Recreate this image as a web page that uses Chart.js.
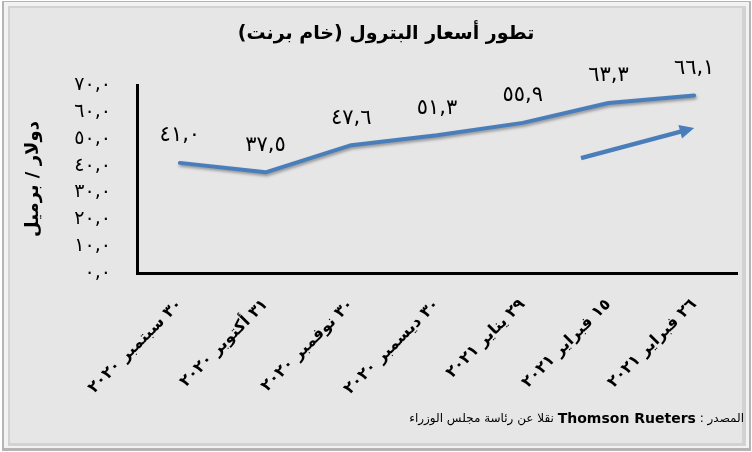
<!DOCTYPE html>
<html lang="ar">
<head>
<meta charset="utf-8">
<title>تطور أسعار البترول</title>
<script src="https://cdn.jsdelivr.net/npm/chart.js@4.4.1/dist/chart.umd.min.js"></script>
<style>
  html, body { margin: 0; padding: 0; background: #fff; }
  #chart { display: block; }
</style>
</head>
<body>
<canvas id="chart" width="752" height="452"></canvas>
<script>
// Brent crude, USD per barrel
const dateLabels = [
    '٣٠ سبتمبر ٢٠٢٠',
    '٣١ أكتوبر ٢٠٢٠',
    '٣٠ نوفمبر ٢٠٢٠',
    '٣٠ ديسمبر ٢٠٢٠',
    '٢٩ يناير ٢٠٢١',
    '١٥ فبراير ٢٠٢١',
    '٢٦ فبراير ٢٠٢١'
];
const prices = [41.0, 37.5, 47.6, 51.3, 55.9, 63.3, 66.1];
const yTickValues = [0, 10, 20, 30, 40, 50, 60, 70];

const chartTitle = 'تطور أسعار البترول (خام برنت)';
const yAxisTitle = 'دولار / برميل';
const sourcePrefix = 'المصدر : ';
const sourceName = 'Thomson Rueters';
const sourceSuffix = ' نقلا عن رئاسة مجلس الوزراء';

const FONT = "'DejaVu Sans', sans-serif";
const lineColor = '#4a7ebb';
const arabicDigits = '٠١٢٣٤٥٦٧٨٩';

// 41.0 -> ٤١,٠
function toArabic(v) {
    return Number(v).toFixed(1).replace('.', ',').replace(/\d/g, d => arabicDigits[d]);
}

// grey bevelled panel behind everything
const framePlugin = {
    id: 'frame',
    beforeDraw(chart) {
        const ctx = chart.ctx;
        const w = chart.width, h = chart.height;
        ctx.save();
        ctx.fillStyle = '#ffffff';
        ctx.fillRect(0, 0, w, h);
        ctx.fillStyle = '#b4b4b4';
        ctx.fillRect(2, 1, w - 3, h - 2);
        ctx.fillStyle = '#f2f2f2';
        ctx.fillRect(4, 2, w - 7, h - 6);
        ctx.fillStyle = '#d2d2d2';
        ctx.fillRect(8, 6, w - 14, h - 12);
        ctx.fillStyle = '#e6e6e6';
        ctx.fillRect(10, 8, w - 20, h - 17);
        ctx.restore();
    }
};

// title + source line, drawn right-to-left
const textPlugin = {
    id: 'texts',
    afterDraw(chart) {
        const ctx = chart.ctx;
        ctx.save();
        ctx.direction = 'rtl';
        ctx.fillStyle = '#000';
        ctx.textBaseline = 'middle';

        ctx.font = 'bold 19px ' + FONT;
        ctx.textAlign = 'center';
        ctx.fillText(chartTitle, 386, 34);

        // pieces placed from the right edge leftwards
        const parts = [
            [sourcePrefix, '12px '],
            [sourceName, 'bold 14px '],
            [sourceSuffix, '12px ']
        ];
        let x = 744;
        const y = 419;
        ctx.textAlign = 'left';
        parts.forEach(([txt, f]) => {
            ctx.font = f + FONT;
            const w = ctx.measureText(txt).width;
            x -= w;
            ctx.fillText(txt, x, y);
        });
        ctx.restore();
    }
};

// soft shadow under the line
const shadowPlugin = {
    id: 'lineShadow',
    beforeDatasetDraw(chart) {
        const ctx = chart.ctx;
        ctx.save();
        ctx.shadowColor = 'rgba(0, 0, 0, 0.35)';
        ctx.shadowBlur = 3;
        ctx.shadowOffsetX = 1;
        ctx.shadowOffsetY = 2;
    },
    afterDatasetDraw(chart) {
        chart.ctx.restore();
    }
};

// value labels above each point
const valueLabelPlugin = {
    id: 'valueLabels',
    afterDatasetsDraw(chart) {
        const ctx = chart.ctx;
        const meta = chart.getDatasetMeta(0);
        ctx.save();
        ctx.font = '21px ' + FONT;
        ctx.fillStyle = '#000';
        ctx.textAlign = 'center';
        ctx.textBaseline = 'middle';
        meta.data.forEach((pt, i) => {
            ctx.fillText(toArabic(prices[i]), pt.x, pt.y - 27);
        });
        ctx.restore();
    }
};

// trend arrow, placed in value space
const arrowPlugin = {
    id: 'trendArrow',
    afterDatasetsDraw(chart) {
        const xs = chart.scales.x, ys = chart.scales.y;
        const x1 = xs.getPixelForValue(4.68), y1 = ys.getPixelForValue(42.8);
        const x2 = xs.getPixelForValue(6.0), y2 = ys.getPixelForValue(54.0);
        const ang = Math.atan2(y2 - y1, x2 - x1);
        const head = 16;
        const ctx = chart.ctx;
        ctx.save();
        ctx.strokeStyle = lineColor;
        ctx.fillStyle = lineColor;
        ctx.lineWidth = 4.5;
        ctx.beginPath();
        ctx.moveTo(x1, y1);
        ctx.lineTo(x2 - Math.cos(ang) * (head - 3), y2 - Math.sin(ang) * (head - 3));
        ctx.stroke();
        ctx.beginPath();
        ctx.moveTo(x2, y2);
        ctx.lineTo(x2 - head * Math.cos(ang - 0.45), y2 - head * Math.sin(ang - 0.45));
        ctx.lineTo(x2 - head * Math.cos(ang + 0.45), y2 - head * Math.sin(ang + 0.45));
        ctx.closePath();
        ctx.fill();
        ctx.restore();
    }
};

const ctx = document.getElementById('chart');
new Chart(ctx, {
    type: 'line',
    data: {
        labels: dateLabels,
        datasets: [{
            data: prices,
            borderColor: lineColor,
            borderWidth: 4,
            borderCapStyle: 'round',
            borderJoinStyle: 'round',
            pointRadius: 0,
            tension: 0,
            fill: false
        }]
    },
    options: {
        responsive: false,
        animation: false,
        layout: { padding: { top: 85, right: 15, bottom: 0, left: 0 } },
        plugins: {
            legend: { display: false },
            tooltip: { enabled: false },
            title: { display: false }
        },
        scales: {
            x: {
                offset: true,
                grid: { display: false, drawTicks: false },
                border: { display: true, color: '#000', width: 3 },
                ticks: {
                    color: '#000',
                    maxRotation: 45,
                    minRotation: 45,
                    padding: 22,
                    autoSkip: false,
                    font: { family: FONT, size: 16, weight: 'bold' }
                },
                afterFit(scale) { scale.height = 179; }
            },
            y: {
                min: 0,
                max: 70,
                afterBuildTicks(scale) {
                    scale.ticks = yTickValues.map(v => ({ value: v }));
                },
                grid: { display: false, drawTicks: false },
                border: { display: true, color: '#000', width: 3 },
                ticks: {
                    color: '#000',
                    padding: 26,
                    autoSkip: false,
                    font: { family: FONT, size: 19, lineHeight: 1 },
                    callback: v => toArabic(v)
                },
                title: {
                    display: true,
                    text: yAxisTitle,
                    color: '#000',
                    font: { family: FONT, size: 18, weight: 'bold' },
                    padding: { top: 23, bottom: 0 }
                },
                afterFit(scale) { scale.width = 137; }
            }
        }
    },
    plugins: [framePlugin, shadowPlugin, valueLabelPlugin, arrowPlugin, textPlugin]
});
</script>
</body>
</html>
